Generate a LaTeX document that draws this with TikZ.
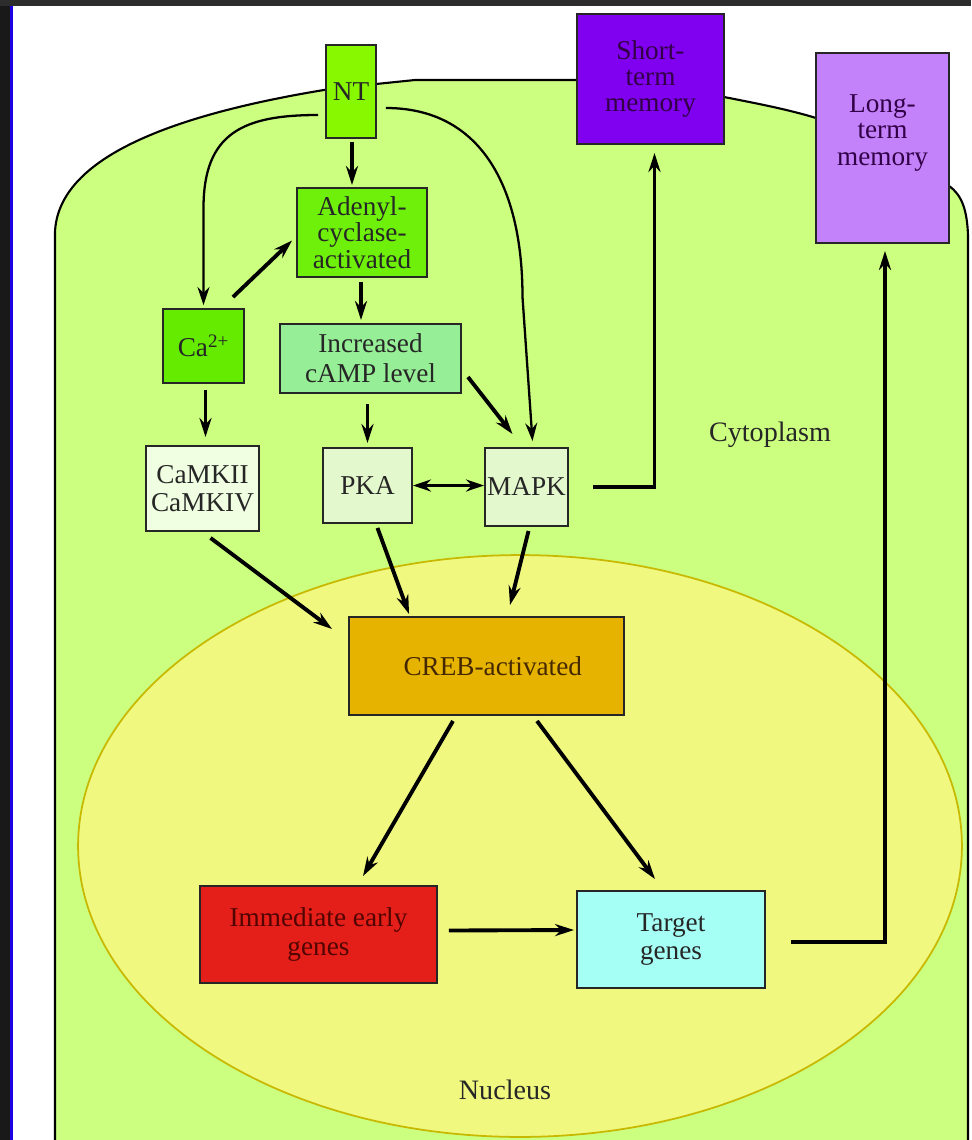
\documentclass[tikz,border=0pt]{standalone}
\usepackage{fontspec}
\setmainfont{Liberation Serif}
\usepackage{xcolor}
\usetikzlibrary{
    positioning,
    arrows.meta,
    calc,
}
\definecolor{cellgreen}{RGB}{204,255,128}
\definecolor{nucfill}{RGB}{240,248,128}
\definecolor{nucline}{RGB}{200,185,0}
\definecolor{ntgreen}{RGB}{135,248,0}
\definecolor{adcgreen}{RGB}{110,240,10}
\definecolor{cagreen}{RGB}{100,235,0}
\definecolor{campgreen}{RGB}{150,238,150}
\definecolor{kinasepale}{RGB}{240,255,225}
\definecolor{pkapale}{RGB}{228,248,205}
\definecolor{stmpurple}{RGB}{128,0,240}
\definecolor{ltmpurple}{RGB}{195,130,250}
\definecolor{crebgold}{RGB}{230,180,0}
\definecolor{iegred}{RGB}{228,30,25}
\definecolor{tgcyan}{RGB}{165,255,245}
\definecolor{framedark}{RGB}{45,45,45}
\definecolor{frameblue}{RGB}{30,0,230}
\tikzset{
    % Box styles
    box/.style={rectangle, draw=black!85, line width=1.1pt, align=center,
                inner sep=1pt, text=black!85,
                font=\fontsize{15.5}{15}\selectfont},
    memory box/.style={box, text={rgb,255:red,50;green,0;blue,70}},
    % Arrow styles
    arrow/.style={-{Stealth[length=3.8mm, width=2.4mm]}, line width=2.2pt},
    thin arrow/.style={-{Stealth[length=3.6mm, width=2.4mm]}, line width=1.3pt},
    % Region labels
    region/.style={font=\fontsize{16}{16}\selectfont, text=black!85},
}

\begin{document}
\begin{tikzpicture}[
    x=0.02cm, y=-0.02cm,
    cell/.style={fill=cellgreen, draw=black, line width=1.2pt},
    nucleus/.style={fill=nucfill, draw=nucline, line width=1pt},
]
    \useasboundingbox (0,0) rectangle (971,1140);
    \clip (0,0) rectangle (971,1140);
    \fill[white] (0,0) rectangle (971,1140);

    % Cell and nucleus
    \filldraw[cell] (55,1160) -- (55,232)
        .. controls (58,165) and (150,118) .. (330,89) -- (376,84)
        -- (415,80) -- (577,80) -- (724,97)
        .. controls (760,104) and (790,110) .. (816,118) -- (949,186)
        .. controls (962,195) and (967,210) .. (968,235) -- (968,1160) -- cycle;
    \draw[nucleus] (520,846) ellipse [x radius=8.84cm, y radius=5.82cm];

    % Screen frame
    \fill[framedark] (0,0) rectangle (971,6);
    \fill[black!90] (0,6) rectangle (10,1140);
    \fill[frameblue] (10,6) rectangle (13,1140);

    % Boxes
    \node[box, fill=ntgreen, minimum width=1cm, minimum height=1.86cm] (nt) at (351,91.5) {NT};
    \node[box, fill=adcgreen, minimum width=2.6cm, minimum height=1.78cm,
          font=\fontsize{15.5}{13.8}\selectfont] (adc) at (362,232.5) {Adenyl-\\cyclase-\\activated};
    \node[box, fill=cagreen, minimum width=1.62cm, minimum height=1.48cm] (ca) at (203.5,346) {Ca\textsuperscript{2+}};
    \node[box, fill=campgreen, minimum width=3.62cm, minimum height=1.38cm,
          font=\fontsize{15.5}{17}\selectfont] (camp) at (370.5,358.5) {Increased\\cAMP level};
    \node[box, fill=kinasepale, minimum width=2.26cm, minimum height=1.7cm,
          font=\fontsize{15.5}{16}\selectfont] (camk) at (202.5,488.5) {CaMKII\\CaMKIV};
    \node[box, fill=pkapale, minimum width=1.78cm, minimum height=1.5cm] (pka) at (367.5,485.5) {PKA};
    \node[box, fill=pkapale, minimum width=1.66cm, minimum height=1.56cm] (mapk) at (526.5,487) {MAPK};
    \node[memory box, fill=stmpurple, minimum width=2.94cm, minimum height=2.6cm] (stm) at (650.5,79) {Short-\\term\\memory};
    \node[memory box, fill=ltmpurple, minimum width=2.66cm, minimum height=3.8cm] (ltm) at (882.5,148) {Long-\\term\\memory\\[0.2cm]};
    \node[box, fill=crebgold, minimum width=5.5cm, minimum height=1.96cm,
          text={rgb,255:red,70;green,40;blue,0}] (creb) at (486.5,666) {\hspace*{0.25cm}CREB-activated};
    \node[box, fill=iegred, minimum width=4.74cm, minimum height=1.94cm,
          font=\fontsize{15.5}{16}\selectfont,
          text={rgb,255:red,80;green,5;blue,0}] (ieg) at (318.5,934.5) {Immediate early\\genes};
    \node[box, fill=tgcyan, minimum width=3.76cm, minimum height=1.94cm,
          font=\fontsize{15.5}{16}\selectfont] (tg) at (671,939.5) {Target\\genes};

    % Region labels
    \node[region] (cyto) at (770,435) {Cytoplasm};
    \node[region] (nuc) at (505,1090) {Nucleus};

    % Arrows from NT
    \draw[arrow] ($(nt.south)+(1,3)$) -- ($(nt.south |- adc.north)+(1,-2)$);
    \draw[thin arrow] ($(nt.west)+(-7,23.5)$) .. controls +(-75,0) and +(0,-75) ..
        ($(ca.north)+(0,-100)$) -- ($(ca.north)+(0,-3)$);
    \draw[thin arrow] ($(nt.east)+(9,16.5)$) .. controls +(95,0) and +(0,-110) ..
        ($(mapk.north)+(-4,-150)$) -- ($(mapk.north)+(6,-6)$);

    % Second messengers
    \draw[arrow] ($(ca.north east)+(-12,-11)$) -- ($(adc.west)+(-4,8)$);
    \draw[arrow] ($(adc.south)+(-1,4)$) -- ($(adc.south |- camp.north)+(-1,-3)$);
    \draw[arrow] ($(ca.south)+(2,6)$) -- ($(ca.south |- camk.north)+(2,-8)$);
    \draw[arrow] ($(camp.south -| pka)+(0,10)$) -- ($(pka.north)+(0,-4)$);
    \draw[arrow] ($(camp.east)+(6,18.5)$) -- ($(mapk.north)+(-14,-13)$);
    \draw[{Stealth[length=3.6mm, width=2.4mm]}-{Stealth[length=3.6mm, width=2.4mm]}, line width=2.2pt]
        (pka.east) -- (pka.east -| mapk.west);
    \draw[arrow] ($(mapk.east)+(24,0)$) -| ($(stm.south)+(4,8)$);

    % Kinases to CREB
    \draw[arrow] ($(camk.south)+(8,6)$) -- ($(creb.north west)+(-16,13)$);
    \draw[arrow] ($(pka.south)+(10,4)$) -- ($(creb.north west)+(61,-2)$);
    \draw[arrow] ($(mapk.south)+(2,4)$) -- ($(creb.north)+(23.5,-11)$);

    % Gene expression
    \draw[arrow] ($(creb.south)+(-33.5,5)$) -- ($(ieg.north)+(44.5,-9)$);
    \draw[arrow] ($(creb.south)+(50.5,5)$) -- ($(tg.north)+(-16,-11)$);
    \draw[arrow] ($(ieg.east)+(11,-4)$) -- ($(tg.west)+(-2,-9.5)$);
    \draw[arrow] ($(tg.east)+(25,2.5)$) -| ($(ltm.south)+(2.5,7)$);
\end{tikzpicture}
\end{document}
